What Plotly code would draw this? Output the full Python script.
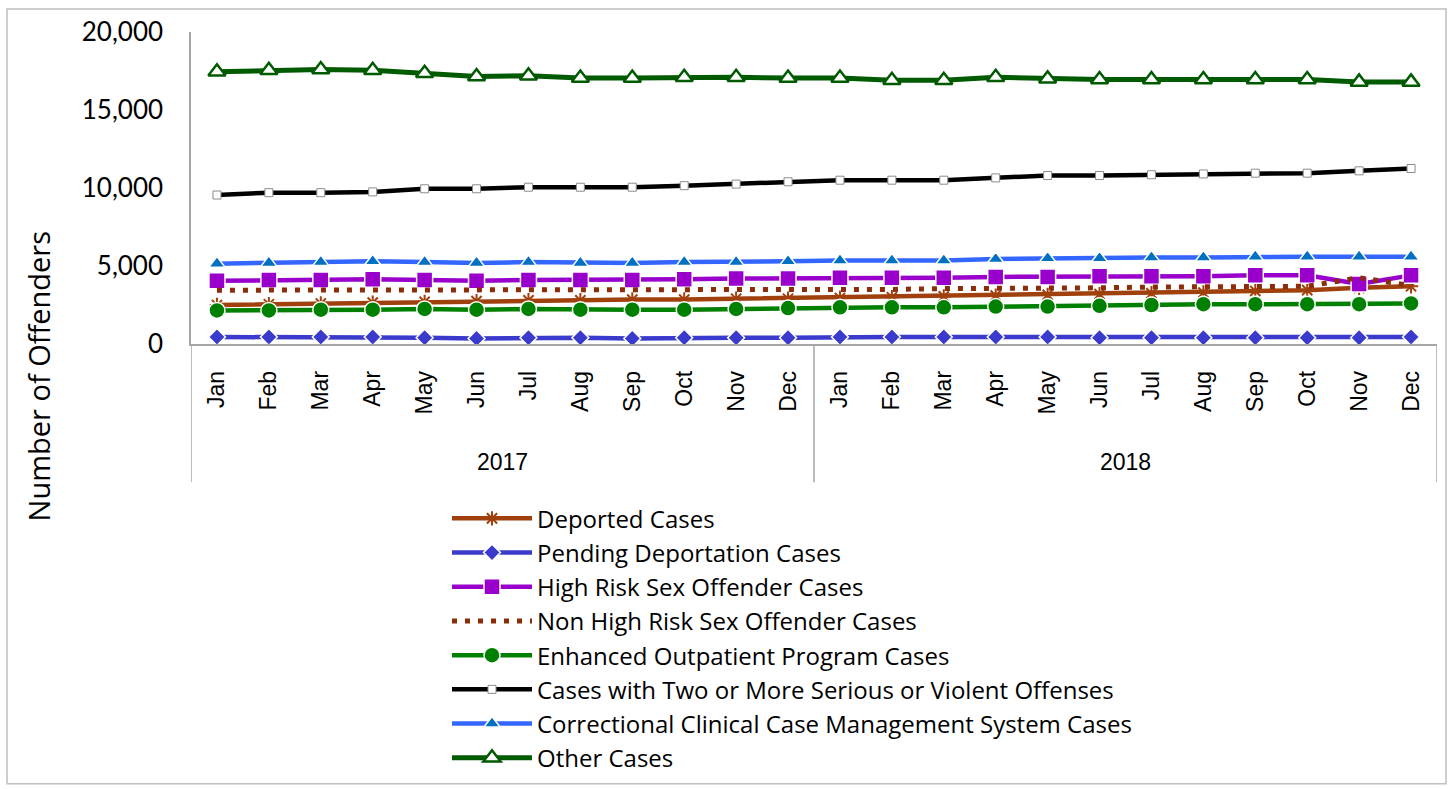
import plotly.graph_objects as go

# Monthly caseload counts, Jan 2017 - Dec 2018
months = ["Jan", "Feb", "Mar", "Apr", "May", "Jun",
          "Jul", "Aug", "Sep", "Oct", "Nov", "Dec"]
years = ["2017", "2018"]
tick_labels = months * 2

deported = [2500, 2550, 2600, 2650, 2700, 2750, 2800, 2800, 2850, 2850, 2900, 2900,
            2950, 3000, 3050, 3100, 3150, 3200, 3250, 3300, 3400, 3450, 3600, 3700]
pending_deportation = [450, 450, 450, 450, 400, 350, 400, 400, 350, 400, 400, 400,
                       450, 450, 450, 450, 450, 400, 400, 400, 400, 400, 400, 450]
high_risk_sex = [4050, 4100, 4100, 4150, 4100, 4050, 4100, 4100, 4100, 4150, 4200, 4200,
                 4250, 4250, 4250, 4300, 4300, 4350, 4350, 4350, 4400, 4400, 3850, 4400]
non_high_risk_sex = [3450, 3450, 3450, 3450, 3450, 3450, 3450, 3450, 3450, 3450, 3450, 3450,
                     3500, 3500, 3550, 3550, 3600, 3600, 3650, 3650, 3650, 3700, 4250, 3750]
eop = [2150, 2150, 2200, 2200, 2250, 2200, 2250, 2200, 2200, 2200, 2250, 2300,
       2350, 2350, 2350, 2400, 2400, 2450, 2500, 2550, 2550, 2550, 2550, 2600]
two_or_more = [9550, 9700, 9700, 9750, 9950, 9950, 10050, 10050, 10050, 10150, 10250, 10400,
               10500, 10500, 10500, 10650, 10800, 10800, 10850, 10900, 10950, 10950, 11100, 11250]
cccms = [5150, 5200, 5250, 5300, 5250, 5200, 5250, 5200, 5200, 5250, 5250, 5300,
         5350, 5350, 5350, 5450, 5500, 5500, 5550, 5550, 5600, 5600, 5600, 5600]
other = [17450, 17550, 17600, 17550, 17350, 17150, 17200, 17050, 17050, 17100, 17100, 17050,
         17050, 16900, 16900, 17100, 17000, 16950, 16950, 16950, 16950, 16950, 16800, 16800]

x = list(range(len(tick_labels)))

# Page geometry (pixels)
W, H = 1450, 789
PLOT_L, PLOT_R = 191, 1437
PLOT_T, PLOT_B = 32, 344.5


def px_x(p):
    return (p - PLOT_L) / (PLOT_R - PLOT_L)


def px_y(p):
    return (PLOT_B - p) / (PLOT_B - PLOT_T)


series = [
    dict(name="Deported Cases", y=deported, color="#A0410D", width=4.5,
         marker=dict(symbol="asterisk-open", size=12, color="#A0410D",
                     line=dict(color="#A0410D", width=2))),
    dict(name="Pending Deportation Cases", y=pending_deportation, color="#3A3ACC", width=4.5,
         marker=dict(symbol="diamond", size=13, color="#3A3ACC",
                     line=dict(color="white", width=1.5))),
    dict(name="High Risk Sex Offender Cases", y=high_risk_sex, color="#9900CC", width=4.5,
         marker=dict(symbol="square", size=16, color="#9900CC",
                     line=dict(color="white", width=1.5))),
    dict(name="Non High Risk Sex Offender Cases", y=non_high_risk_sex, color="#8B2C0B",
         width=5, dash="5px,8px", marker=None),
    dict(name="Enhanced Outpatient Program Cases", y=eop, color="#008000", width=4.5,
         marker=dict(symbol="circle", size=16, color="#008000",
                     line=dict(color="white", width=1.5))),
    dict(name="Cases with Two or More Serious or Violent Offenses", y=two_or_more,
         color="#000000", width=4.5,
         marker=dict(symbol="square", size=8, color="white",
                     line=dict(color="#8C8C8C", width=1))),
    dict(name="Correctional Clinical Case Management System Cases", y=cccms,
         color="#3366FF", width=4.5,
         marker=dict(symbol="triangle-up", size=14, color="#0070C0",
                     line=dict(color="white", width=1.5))),
    dict(name="Other Cases", y=other, color="#005A00", width=5,
         marker=dict(symbol="triangle-up", size=15, color="white",
                     line=dict(color="#005A00", width=2.5))),
]

fig = go.Figure()
for s in series:
    kw = dict(x=x, y=s["y"], name=s["name"],
              line=dict(color=s["color"], width=s["width"], dash=s.get("dash", "solid")))
    if s["marker"] is None:
        kw["mode"] = "lines"
    else:
        kw["mode"] = "lines+markers"
        kw["marker"] = s["marker"]
    fig.add_trace(go.Scatter(**kw))

axis_grey = "#A6A6A6"

shapes = [
    # category group dividers below the axis
    dict(type="line", xref="x", yref="paper", x0=xv, x1=xv, y0=0, y1=px_y(483),
         line=dict(color=axis_grey, width=1.5))
    for xv in (-0.5, 11.5, 23.5)
]
# chart border
shapes.append(dict(type="rect", xref="paper", yref="paper",
                   x0=px_x(7), x1=px_x(1446), y0=px_y(9), y1=px_y(785),
                   line=dict(color="#BFBFBF", width=1.5), fillcolor="rgba(0,0,0,0)",
                   layer="below"))

annotations = [
    dict(text=yr, xref="x", yref="paper", x=5.5 + 12 * i, y=px_y(463),
         xanchor="center", yanchor="middle", showarrow=False,
         font=dict(family="Liberation Sans", size=23, color="#000"))
    for i, yr in enumerate(years)
]
annotations.append(dict(text="Number of Offenders", xref="paper", yref="paper",
                        x=px_x(38), y=px_y(377), xanchor="center", yanchor="middle",
                        textangle=-90, showarrow=False,
                        font=dict(family="Open Sans", size=29, color="#000")))

fig.update_layout(
    width=W, height=H,
    margin=dict(l=PLOT_L, r=W - PLOT_R, t=PLOT_T, b=H - PLOT_B, pad=0,
                autoexpand=False),
    paper_bgcolor="white", plot_bgcolor="white",
    showlegend=True,
    legend=dict(x=px_x(447), y=px_y(497), xanchor="left", yanchor="top",
                font=dict(family="Open Sans", size=24, color="#000"),
                itemwidth=80, tracegroupgap=0, bgcolor="rgba(0,0,0,0)"),
    xaxis=dict(range=[-0.5, 23.5], tickmode="array", tickvals=x, ticktext=tick_labels,
               tickangle=-90, showgrid=False, zeroline=False, showline=True,
               linecolor=axis_grey, linewidth=1.5, ticks="", ticklabelstandoff=16,
               tickfont=dict(family="Liberation Sans", size=23, color="#000")),
    yaxis=dict(range=[0, 20000], tickmode="array", tickvals=[0, 5000, 10000, 15000, 20000],
               tickformat=",", showgrid=False, zeroline=False, showline=True,
               linecolor=axis_grey, linewidth=1.5, ticks="", ticklabelstandoff=21,
               tickfont=dict(family="Lato", size=26, color="#000")),
    shapes=shapes,
    annotations=annotations,
)

fig.write_html("out.html")
